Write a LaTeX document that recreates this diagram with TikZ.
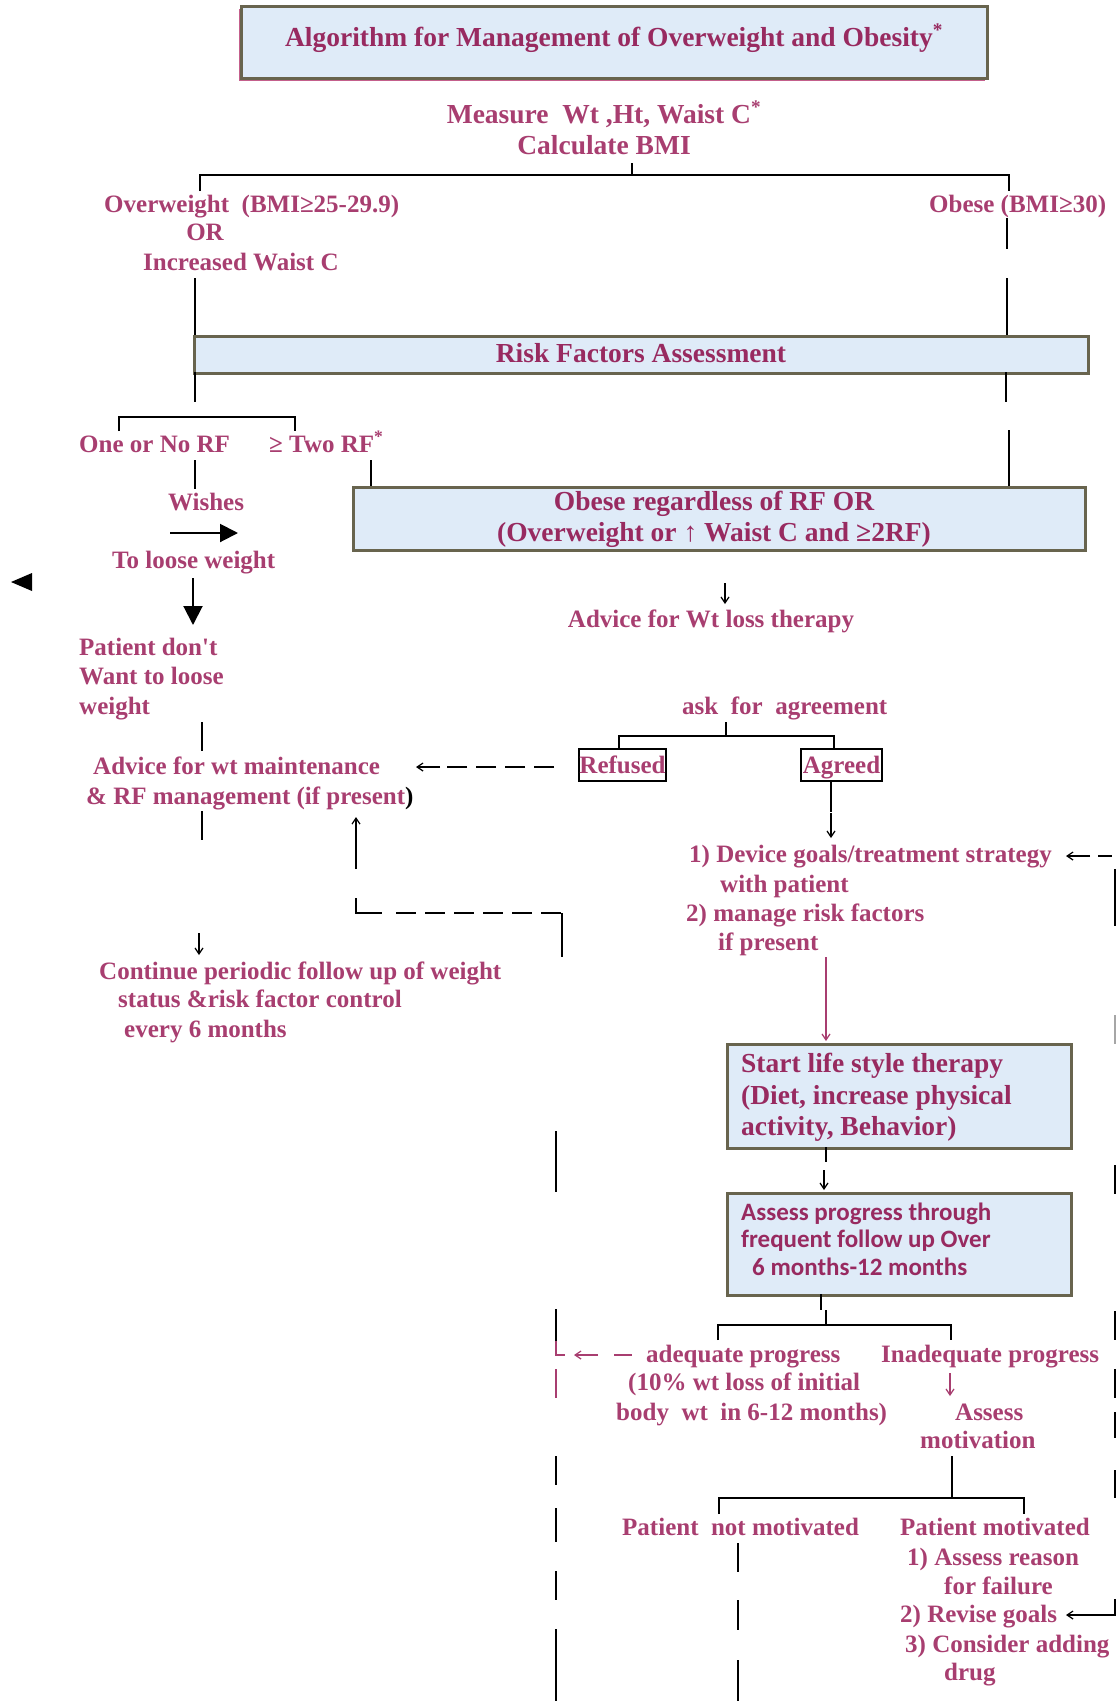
\documentclass[tikz,border=0pt]{standalone}
\usepackage{fontspec}
\setmainfont{Liberation Serif}
\newfontfamily\carlitofont{Carlito}
\usetikzlibrary{arrows.meta}
\definecolor{pk}{RGB}{168,62,112}
\definecolor{pkd}{RGB}{152,42,96}
\definecolor{lb}{RGB}{223,235,248}
\definecolor{ol}{RGB}{104,100,78}
\definecolor{shp}{RGB}{196,96,140}
\newcommand\tfont{\bfseries\fontsize{25}{29}\selectfont}
\newcommand\bigfont{\bfseries\fontsize{27.5}{31}\selectfont}
\newcommand\sansfont{\carlitofont\bfseries\fontsize{25}{29}\selectfont}
\tikzset{
  t/.style={font=\tfont, text=pk, inner sep=0pt, anchor=base west},
  tc/.style={t, anchor=base},
  tb/.style={font=\bigfont, text=pkd, inner sep=0pt, anchor=base west},
  tbc/.style={tb, anchor=base},
  ts/.style={font=\sansfont, text=pkd, inner sep=0pt, anchor=base west},
  box/.style={draw=ol, line width=2.5pt, fill=lb, anchor=north west, inner sep=0pt},
  refbox/.style={draw=black, line width=2pt, fill=white, inner sep=0pt, font=\tfont, text=pk, text height=17pt, text depth=0pt},
  ln/.style={line width=2pt, black},
  dl/.style={line width=2pt, black, dash pattern=on 20pt off 9pt},
  sa/.style={line width=1.2pt, black, -{Straight Barb[length=6pt,width=8pt]}},
  big/.style={line width=2pt, black, -{Triangle[length=18pt,width=18pt]}}
}
\begin{document}
\begin{tikzpicture}[x=1pt,y=-1pt]
\useasboundingbox[fill=white] (0,0) rectangle (1117,1701);

% ---------- boxes ----------
\fill[shp] (238.5,9) rectangle (985,81);
\node[box, minimum width=746pt, minimum height=72pt] (ttlbox) at (240,5) {};
\node[box, minimum width=894pt, minimum height=37pt] (rfbox) at (193,335) {};
\node[box, minimum width=732pt, minimum height=63pt] (obbox) at (352,486) {};
\node[box, minimum width=344pt, minimum height=104pt] (stbox) at (726,1043) {};
\node[box, minimum width=344pt, minimum height=102pt] (asbox) at (726,1192) {};

% ---------- texts ----------
\node[tbc] (ttl) at (614,46) {Algorithm for Management of Overweight and Obesity\textsuperscript{*}};
\node[tbc, text=pk] (meas1) at (604,123) {Measure\ \ Wt ,Ht, Waist C\textsuperscript{*}};
\node[tbc, text=pk] (meas2) at (604,154) {Calculate BMI};
\node[t] (ow) at (104,212) {Overweight\ \ (BMI≥25-29.9)};
\node[tc] (or) at (205,240) {OR};
\node[t] (iw) at (143,270) {Increased Waist C};
\node[t] (ob) at (929,212) {Obese (BMI≥30)};
\node[tbc] (rft) at (641,362) {Risk Factors Assessment};
\node[t] (one) at (79,452) {One or No RF};
\node[t] (two) at (269,452) {≥ Two RF\textsuperscript{*}};
\node[tc] (wish) at (206,510) {Wishes};
\node[t] (tlw) at (112,568) {To loose weight};
\node[tbc] (obt1) at (714,510) {Obese regardless of RF OR};
\node[tbc] (obt2) at (714,541) {(Overweight or ↑ Waist C and ≥2RF)};
\node[tc] (advw) at (711,627) {Advice for Wt loss therapy};
\node[t] (pd1) at (79,655) {Patient don\textquotesingle t};
\node[t] (pd2) at (79,684) {Want to loose};
\node[t] (pd3) at (79,714) {weight};
\node[t] (ask) at (682,714) {ask\ \ for\ \ agreement};
\node[refbox, minimum width=87pt, minimum height=32pt] (refu) at (622.5,765) {Refused};
\node[refbox, minimum width=81pt, minimum height=32pt] (agr) at (841.5,765) {Agreed};
\node[t] (am1) at (93,774) {Advice for wt maintenance};
\node[t] (am2) at (86,804) {\& RF management (if present{\color{black})}};
\node[t] (d1) at (689,862) {1) Device goals/treatment strategy};
\node[t] (d2) at (720,892) {with patient};
\node[t] (d3) at (686,921) {2) manage risk factors};
\node[t] (d4) at (718,950) {if present};
\node[t] (c1) at (99,979) {Continue periodic follow up of weight};
\node[t] (c2) at (118,1007) {status \&risk factor control};
\node[t] (c3) at (124,1037) {every 6 months};
\node[tb] (s1) at (741,1072) {Start life style therapy};
\node[tb] (s2) at (741,1104) {(Diet, increase physical};
\node[tb] (s3) at (741,1135) {activity, Behavior)};
\node[ts] (a1) at (741,1220) {Assess progress through};
\node[ts] (a2) at (741,1247) {frequent follow up Over};
\node[ts] (a3) at (752,1275) {6 months-12 months};
\node[t] (adq) at (646,1362) {adequate progress};
\node[t] (inadq) at (881,1362) {Inadequate progress};
\node[t] (tp1) at (628,1390) {(10\% wt loss of initial};
\node[t] (tp2) at (616,1420) {body\ \ wt\ \ in 6-12 months)};
\node[t] (am) at (955,1420) {Assess};
\node[t] (mot) at (920,1448) {motivation};
\node[t] (pnm) at (622,1535) {Patient\ \ not motivated};
\node[t] (pm) at (900,1535) {Patient motivated};
\node[t] (pm1) at (907,1565) {1) Assess reason};
\node[t] (pm2) at (944,1594) {for failure};
\node[t] (pm3) at (900,1622) {2) Revise goals};
\node[t] (pm4) at (905,1652) {3) Consider adding};
\node[t] (pm5) at (944,1680) {drug};

% ---------- connectors ----------
\draw[ln] (632,163) -- (632,175);
\draw[ln] (200,191) -- (200,175) -- (1009,175) -- (1009,191);
\draw[ln] (195,278) -- (195,335);
\draw[ln] (1007,218) -- (1007,249);
\draw[ln] (1007,278) -- (1007,335);
\draw[ln] (195,372) -- (195,402);
\draw[ln] (1006,372) -- (1006,402);
\draw[ln] (119,431) -- (119,417) -- (295,417) -- (295,431);
\draw[ln] (195,460) -- (195,489);
\draw[ln] (371,460) -- (371,486);
\draw[ln] (1009,430) -- (1009,486);
\draw[big] (170,533) -- (238,533);
\fill (11,582) -- (32,573) -- (32,591) -- cycle;
\draw[line width=2pt, black, -{Triangle[length=19pt,width=19pt]}] (193,578) -- (193,625);
\draw[sa] (725,583) -- (725,604);
\draw[ln] (202,722) -- (202,751);
\draw[ln] (726,722) -- (726,736);
\draw[ln] (619,749) -- (619,736) -- (834,736) -- (834,749);
\draw[dl] (554,767) -- (440,767);
\draw[sa] (440,767) -- (416,767);
\draw[ln] (831,781) -- (831,812);
\draw[sa] (831,813) -- (831,838);
\draw[ln] (202,811) -- (202,840);
\draw[sa] (199,933) -- (199,955);
\draw[sa] (356,869) -- (356,817);
\draw[ln] (356,898) -- (356,913) -- (382,913);
\draw[dl] (396,913) -- (562,913);
\draw[ln] (562,913) -- (562,957);
\draw[line width=1.2pt, pk, -{Straight Barb[length=6pt,width=8pt]}] (826,957) -- (826,1041);
% right return line
\draw[sa] (1090,856) -- (1066,856);
\draw[ln] (1098,856) -- (1112,856);
\foreach \a/\b in {869/926,1165/1194,1311/1340,1369/1398,1412/1438,1470/1498}
  \draw[ln] (1115,\a) -- (1115,\b);
\draw[line width=2pt, black!35] (1115,1015) -- (1115,1044);
\draw[ln] (1115,1599) -- (1115,1615) -- (1089,1615);
\draw[sa] (1089,1615) -- (1066,1615);
% start -> assess
\draw[ln] (826,1147) -- (826,1162);
\draw[sa] (824,1170) -- (824,1190);
\draw[ln] (821,1294) -- (821,1310);
\draw[ln] (826,1310) -- (826,1325);
\draw[ln] (718,1340) -- (718,1325) -- (951,1325) -- (951,1340);
\draw[line width=1.2pt, pk, -{Straight Barb[length=6pt,width=8pt]}] (950,1373) -- (950,1396);
\draw[ln] (952,1456) -- (952,1498);
\draw[ln] (719,1514) -- (719,1498) -- (1024,1498) -- (1024,1514);
% left return line
\foreach \a/\b in {1131/1192,1309/1341,1456/1485,1508/1542,1571/1600,1629/1701}
  \draw[ln] (556,\a) -- (556,\b);
\draw[line width=2pt, pk] (556,1341) -- (556,1355) -- (565,1355);
\draw[line width=2pt, pk] (556,1369) -- (556,1398);
\draw[line width=1.2pt, pk, -{Straight Barb[length=6pt,width=8pt]}] (598,1355) -- (574,1355);
\draw[line width=1.5pt, pk] (614,1355) -- (632,1355);
% not motivated line
\foreach \a/\b in {1543/1572,1600/1630,1660/1701}
  \draw[ln] (738,\a) -- (738,\b);
\end{tikzpicture}
\end{document}
